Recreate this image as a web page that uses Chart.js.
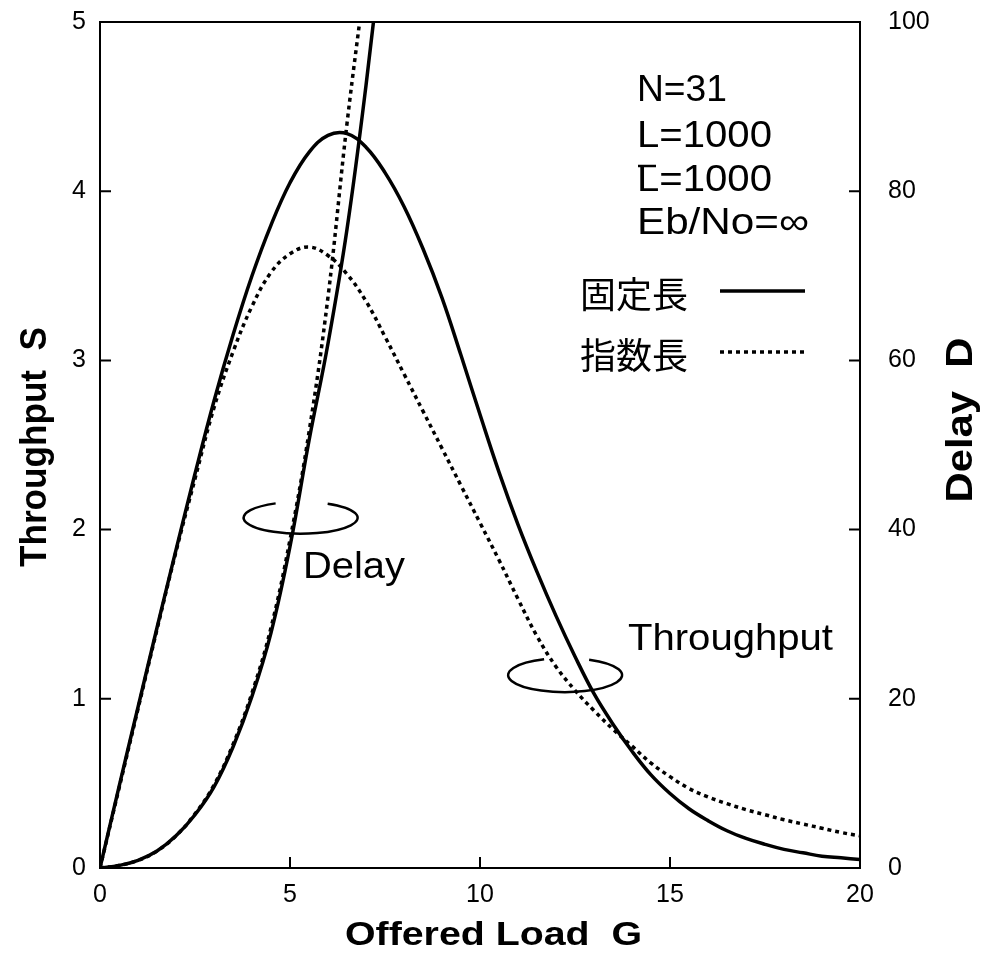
<!DOCTYPE html>
<html>
<head>
<meta charset="utf-8">
<script src="https://cdn.jsdelivr.net/npm/chart.js@4.4.1/dist/chart.umd.min.js"></script>
<style>
  html, body { margin: 0; padding: 0; background: #fff; }
</style>
</head>
<body>
<canvas id="chart" width="993" height="958"></canvas>
<script>
// offered load G (x) for the throughput curves
var loadG = [0, 0.5, 1, 1.5, 2, 2.5, 3, 3.5, 4, 4.5, 5, 5.5, 6, 6.5, 7, 7.5, 8, 8.5, 9, 9.5,
             10, 10.5, 11, 11.5, 12, 12.5, 13, 13.5, 14, 14.5, 15, 15.5, 16, 16.5, 17, 17.5, 18, 18.5, 19, 19.5, 20];
// throughput S, fixed length (solid)
var thrFixed = [0, 0.48, 0.95, 1.42, 1.88, 2.33, 2.76, 3.15, 3.50, 3.80, 4.05, 4.23, 4.33, 4.34, 4.26, 4.11, 3.91, 3.66, 3.37, 3.03,
                2.68, 2.34, 2.03, 1.75, 1.49, 1.25, 1.03, 0.85, 0.69, 0.55, 0.44, 0.35, 0.28, 0.22, 0.175, 0.14, 0.11, 0.09, 0.07, 0.06, 0.05];
// throughput S, exponential length (dotted)
var thrExp = [0, 0.47, 0.94, 1.41, 1.87, 2.30, 2.72, 3.05, 3.32, 3.52, 3.63, 3.67, 3.62, 3.51, 3.35, 3.14, 2.92, 2.70, 2.48, 2.26,
              2.04, 1.82, 1.59, 1.37, 1.19, 1.05, 0.93, 0.82, 0.72, 0.62, 0.54, 0.47, 0.42, 0.38, 0.345, 0.315, 0.285, 0.26, 0.235, 0.21, 0.19];
// delay D (right axis), goes off the top after G ~ 7
var delayG = [0, 0.5, 1, 1.5, 2, 2.5, 3, 3.5, 4, 4.5, 5, 5.5, 6, 6.5, 7, 7.5];
var delayFixed = [0, 0.3, 0.9, 2.0, 3.8, 6.3, 9.6, 14.3, 20.3, 27.8, 38.0, 50.5, 62.0, 75.5, 92.5, 112];
var delayExp = [0, 0.3, 0.9, 2.0, 3.8, 6.4, 9.8, 14.6, 20.7, 28.4, 38.8, 51.5, 67.5, 88.0, 106, 125];

var xTicks = [0, 5, 10, 15, 20];
var sTicks = [0, 1, 2, 3, 4, 5];
var dTicks = [0, 20, 40, 60, 80, 100];

function pts(xs, ys) {
  return ys.map(function (v, i) { return { x: xs[i], y: v }; });
}

var SANS = '"Liberation Sans", Arial, Helvetica, sans-serif';
var CJK = '"Noto Sans CJK JP", sans-serif';

// draw text squeezed/stretched to a given width, left edge at x
function fitText(ctx, txt, x, y, font, width) {
  ctx.save();
  ctx.font = font;
  var w = ctx.measureText(txt).width;
  ctx.translate(x, y);
  ctx.scale(width / w, 1);
  ctx.textAlign = 'left';
  ctx.textBaseline = 'middle';
  ctx.fillText(txt, 0, 0);
  ctx.restore();
}

function vertText(ctx, txt, cx, cy, font, len) {
  ctx.save();
  ctx.font = font;
  var w = ctx.measureText(txt).width;
  ctx.translate(cx, cy);
  ctx.rotate(-Math.PI / 2);
  ctx.scale(len / w, 1);
  ctx.textAlign = 'center';
  ctx.textBaseline = 'middle';
  ctx.fillText(txt, 0, 0);
  ctx.restore();
}

// open ring around a pair of curves, gap on top between offsets gl..gr
function ring(ctx, cx, cy, rx, ry, gl, gr) {
  var a0 = 2 * Math.PI - Math.acos(gr / rx);
  var a1 = 2 * Math.PI - Math.acos(gl / rx) + 2 * Math.PI;
  ctx.beginPath();
  ctx.ellipse(cx, cy, rx, ry, 0, a0, a1, false);
  ctx.stroke();
}

var decor = {
  id: 'decor',
  afterDraw: function (chart) {
    var ctx = chart.ctx;
    var a = chart.chartArea;
    var sx = chart.scales.x, sy = chart.scales.y, sd = chart.scales.y2;
    ctx.save();
    ctx.strokeStyle = '#000';
    ctx.fillStyle = '#000';
    ctx.lineWidth = 2;
    ctx.strokeRect(a.left, a.top, a.right - a.left, a.bottom - a.top);

    // inward tick marks
    ctx.beginPath();
    sTicks.forEach(function (v) {
      var p = sy.getPixelForValue(v);
      ctx.moveTo(a.left, p); ctx.lineTo(a.left + 11, p);
    });
    dTicks.forEach(function (v) {
      var p = sd.getPixelForValue(v);
      ctx.moveTo(a.right, p); ctx.lineTo(a.right - 11, p);
    });
    xTicks.forEach(function (v) {
      var p = sx.getPixelForValue(v);
      ctx.moveTo(p, a.bottom); ctx.lineTo(p, a.bottom - 11);
    });
    ctx.stroke();

    // axis titles
    fitText(ctx, 'Offered Load  G', 345, 936, 'bold 34px ' + SANS, 297);
    vertText(ctx, 'Throughput  S', 36, 447, 'bold 37px ' + SANS, 240);
    vertText(ctx, 'Delay  D', 962, 420, 'bold 37px ' + SANS, 165);

    // parameter block
    fitText(ctx, 'N=31', 637, 91, '37px ' + SANS, 90);
    fitText(ctx, 'L=1000', 637, 137, '37px ' + SANS, 135);
    fitText(ctx, 'L=1000', 637, 181, '37px ' + SANS, 135);
    ctx.lineWidth = 2.5;
    ctx.beginPath(); ctx.moveTo(638, 166); ctx.lineTo(656, 166); ctx.stroke();
    fitText(ctx, 'Eb/No=\u221E', 637, 224, '37px ' + SANS, 172);

    // legend
    fitText(ctx, '固定長', 580, 294, '36px ' + CJK, 108);
    fitText(ctx, '指数長', 580, 355, '36px ' + CJK, 108);
    ctx.lineWidth = 3.5;
    ctx.beginPath(); ctx.moveTo(720, 291); ctx.lineTo(805, 291); ctx.stroke();
    ctx.setLineDash([4, 4]);
    ctx.beginPath(); ctx.moveTo(720, 352); ctx.lineTo(805, 352); ctx.stroke();
    ctx.setLineDash([]);

    // curve group labels with open rings
    ctx.lineWidth = 2.5;
    ring(ctx, sx.getPixelForValue(5.28), sy.getPixelForValue(2.07), 57, 16, -25, 27);
    ring(ctx, sx.getPixelForValue(12.24), sy.getPixelForValue(1.14), 57, 17, -21, 24);
    fitText(ctx, 'Delay', 303, 568, '37px ' + SANS, 102);
    fitText(ctx, 'Throughput', 628, 640, '37px ' + SANS, 205);
    ctx.restore();
  }
};

var tickFont = { family: SANS, size: 25 };

function noPad(s) {
  s.paddingTop = 0; s.paddingBottom = 0; s.paddingLeft = 0; s.paddingRight = 0;
}

var curve = { borderColor: '#000', borderWidth: 3.5, pointRadius: 0, tension: 0.4, fill: false };

new Chart(document.getElementById('chart'), {
  type: 'line',
  data: {
    datasets: [
      Object.assign({ data: pts(loadG, thrFixed), yAxisID: 'y' }, curve),
      Object.assign({ data: pts(loadG, thrExp), yAxisID: 'y', borderDash: [4, 4] }, curve),
      Object.assign({ data: pts(delayG, delayFixed), yAxisID: 'y2' }, curve),
      Object.assign({ data: pts(delayG, delayExp), yAxisID: 'y2', borderDash: [4, 4] }, curve)
    ]
  },
  options: {
    responsive: false,
    animation: false,
    layout: { padding: { top: 22, left: 0, right: 0, bottom: 0 } },
    plugins: { legend: { display: false }, tooltip: { enabled: false } },
    scales: {
      x: {
        type: 'linear', min: 0, max: 20,
        ticks: { stepSize: 5, font: tickFont, color: '#000', padding: 12, maxRotation: 0, autoSkip: false },
        grid: { display: false, drawTicks: false },
        border: { display: false },
        afterFit: function (s) { s.height = 90; noPad(s); }
      },
      y: {
        position: 'left', min: 0, max: 5,
        ticks: { stepSize: 1, font: tickFont, color: '#000', padding: 14 },
        grid: { display: false, drawTicks: false },
        border: { display: false },
        afterFit: function (s) { s.width = 100; noPad(s); }
      },
      y2: {
        position: 'right', min: 0, max: 100,
        ticks: { stepSize: 20, font: tickFont, color: '#000', padding: 28 },
        grid: { display: false, drawTicks: false },
        border: { display: false },
        afterFit: function (s) { s.width = 133; noPad(s); }
      }
    }
  },
  plugins: [decor]
});
</script>
</body>
</html>
